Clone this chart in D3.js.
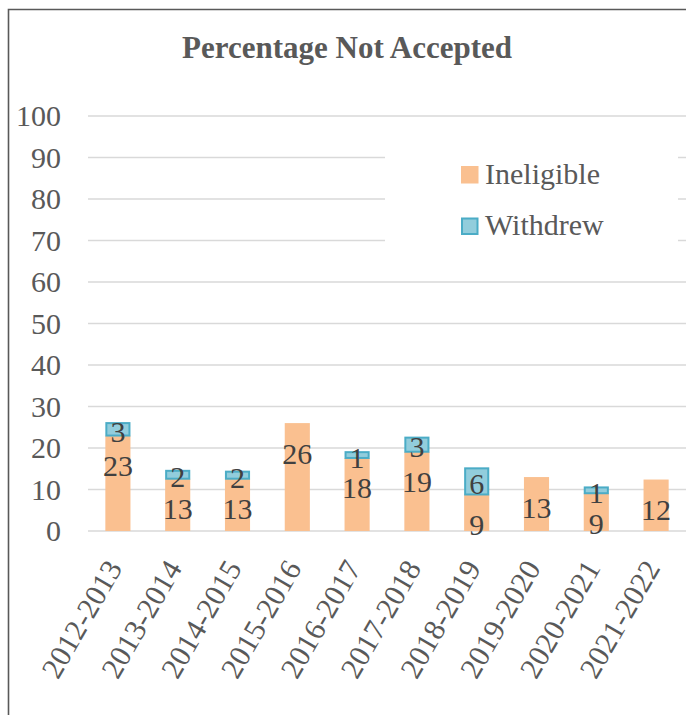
<!DOCTYPE html>
<html>
<head>
<meta charset="utf-8">
<script src="https://cdn.jsdelivr.net/npm/d3@7"></script>
<style>
  body { margin: 0; background: #fff; }
  svg, svg text { font-family: "Liberation Serif", "LiberationSerif", "Tinos", "Times New Roman", "DejaVu Serif", serif !important; }
</style>
</head>
<body>
<section></section>
<script>
// data
var years = ["2012-2013", "2013-2014", "2014-2015", "2015-2016", "2016-2017",
             "2017-2018", "2018-2019", "2019-2020", "2020-2021", "2021-2022"];
var ineligible = [23.0, 12.6, 12.6, 26.0, 17.6, 19.1, 8.8, 13.0, 9.1, 12.4];
var withdrew   = [3.0, 1.9, 1.7, 0, 1.4, 3.4, 6.3, 0, 1.4, 0];
var yTicks = [0, 10, 20, 30, 40, 50, 60, 70, 80, 90, 100];
var seriesNames = ["Ineligible", "Withdrew"];

var W = 686, H = 715;
var plot = {left: 88, right: 686, top: 116, bottom: 531};

var svg = d3.select("section").append("svg")
    .attr("width", W)
    .attr("height", H);

// chart frame (left and top edges visible)
svg.append("path")
  .attr("d", "M8.5," + H + "V9.5H" + W)
  .attr("fill", "none")
  .attr("stroke", "#595959")
  .attr("stroke-width", 1.6);

// title
svg.append("text")
  .attr("x", 347)
  .attr("y", 58)
  .attr("text-anchor", "middle")
  .style("font-size", "31px")
  .style("font-weight", "bold")
  .attr("fill", "#595959")
  .text("Percentage Not Accepted");

var x = d3.scaleBand()
  .domain(years)
  .range([plot.left, plot.right])
  .paddingInner(0.58)
  .paddingOuter(0.29);

var y = d3.scaleLinear()
  .domain([0, 100])
  .range([plot.bottom, plot.top]);

// gridlines
svg.append("g")
  .selectAll("line")
  .data(yTicks)
  .enter().append("line")
  .attr("x1", plot.left)
  .attr("x2", plot.right)
  .attr("y1", function(d) { return y(d); })
  .attr("y2", function(d) { return y(d); })
  .attr("stroke", "#d9d9d9")
  .attr("stroke-width", 1.6);

// y axis labels
var yAxis = svg.append("g")
  .attr("transform", "translate(61,0)")
  .call(d3.axisLeft(y).tickValues(yTicks).tickSize(0).tickPadding(0));
yAxis.attr("font-family", null);
yAxis.select(".domain").remove();
yAxis.selectAll("text")
  .style("font-size", "30px")
  .attr("fill", "#595959");

// x axis labels, rotated
var xAxis = svg.append("g")
  .attr("transform", "translate(0," + plot.bottom + ")")
  .call(d3.axisBottom(x).tickSize(0).tickPadding(0));
xAxis.attr("font-family", null);
xAxis.select(".domain").remove();
xAxis.selectAll("text")
  .attr("y", 0)
  .attr("dy", 0)
  .attr("transform", "translate(5,37) rotate(-60)")
  .style("text-anchor", "end")
  .style("font-size", "30px")
  .attr("fill", "#595959");

// stacked bars
var rows = years.map(function(yr, i) {
  return {year: yr, Ineligible: ineligible[i], Withdrew: withdrew[i]};
});
var stack = d3.stack().keys(seriesNames)(rows);
var fills = {Ineligible: "#fac090", Withdrew: "#92cddc"};
var strokes = {Ineligible: "none", Withdrew: "#4bacc6"};
var fmt = d3.format(".0f");

var layer = svg.selectAll(".layer")
  .data(stack)
  .enter().append("g")
  .attr("class", "layer");

layer.selectAll("rect")
  .data(function(s) { return s.map(function(d) { d.key = s.key; return d; }); })
  .enter().filter(function(d) { return d[1] - d[0] > 0; })
  .append("rect")
  .attr("x", function(d) { return x(d.data.year) + (d.key === "Withdrew" ? 1 : 0); })
  .attr("width", function(d) { return x.bandwidth() - (d.key === "Withdrew" ? 2 : 0); })
  .attr("y", function(d) { return y(d[1]); })
  .attr("height", function(d) { return y(d[0]) - y(d[1]); })
  .attr("fill", function(d) { return fills[d.key]; })
  .attr("stroke", function(d) { return strokes[d.key]; })
  .attr("stroke-width", 2);

// data labels
layer.selectAll("text")
  .data(function(s) { return s.filter(function(d) { return d[1] - d[0] > 0; }); })
  .enter().append("text")
  .attr("x", function(d) { return x(d.data.year) + x.bandwidth() / 2; })
  .attr("y", function(d) {
    if (d.key === "Ineligible") return y(d[1]) + 30;
    return (y(d[0]) + y(d[1])) / 2 + 2;
  })
  .attr("dy", "0.35em")
  .attr("text-anchor", "middle")
  .style("font-size", "30px")
  .attr("fill", "#404040")
  .text(function(d) { return fmt(d[1] - d[0]); });

// legend
svg.append("rect")
  .attr("x", 385).attr("y", 132)
  .attr("width", 293).attr("height", 136)
  .attr("fill", "#fff");

var legend = svg.selectAll(".legend")
  .data(seriesNames)
  .enter().append("g")
  .attr("class", "legend")
  .attr("transform", function(d, i) { return "translate(461," + (166 + i * 51.5) + ")"; });

legend.append("rect")
  .attr("x", function(d) { return d === "Withdrew" ? 1 : 0; })
  .attr("y", function(d) { return d === "Withdrew" ? 1 : 0; })
  .attr("width", function(d) { return d === "Withdrew" ? 15.5 : 17.5; })
  .attr("height", function(d) { return d === "Withdrew" ? 15.5 : 17.5; })
  .attr("fill", function(d) { return fills[d]; })
  .attr("stroke", function(d) { return strokes[d]; })
  .attr("stroke-width", 2);

legend.append("text")
  .attr("x", 24)
  .attr("y", 17.5)
  .style("font-size", "30px")
  .attr("fill", "#595959")
  .text(function(d) { return d; });
</script>
</body>
</html>
